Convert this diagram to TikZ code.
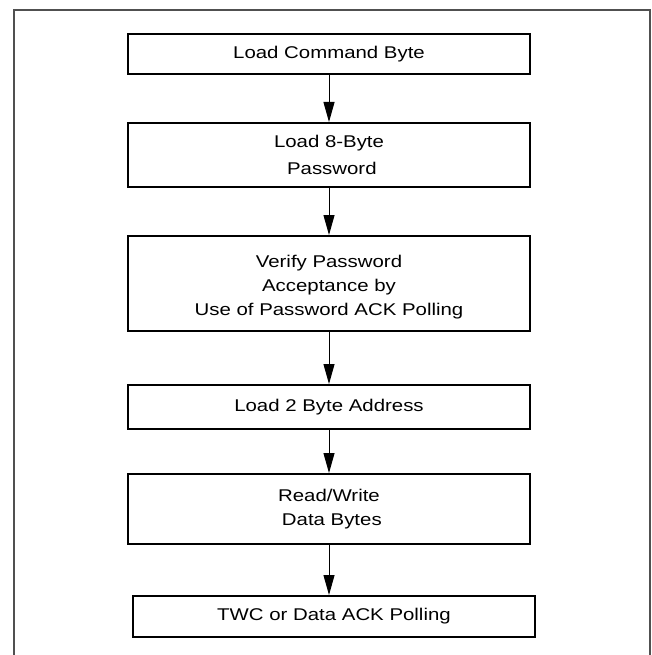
\documentclass[tikz,border=0pt]{standalone}
\usepackage{fontspec}
\setmainfont{Liberation Sans}
\newfontfamily\flowfont[FakeStretch=1.2]{Liberation Sans}
\usetikzlibrary{arrows.meta}
\definecolor{framegray}{HTML}{505050}
\tikzset{
  stepbox/.style={draw=black, line width=2pt, minimum width=402pt, align=center,
    font=\flowfont\fontsize{17}{24}\selectfont, inner sep=0pt},
  flowarrow/.style={line width=1pt, -{Triangle[length=20pt,width=11pt]}},
  outerframe/.style={draw=framegray, line width=1.5pt}
}
\begin{document}
\begin{tikzpicture}[x=1pt,y=1pt]
\useasboundingbox (0,0) rectangle (651,-655);
% open frame around the flow
\draw[outerframe] (14,-655) -- (14,-10) -- (650,-10) -- (650,-655);
% steps
\node[stepbox, minimum height=40pt] (cmd) at (329,-54) {Load Command Byte};
\node[stepbox, minimum height=64pt, font=\flowfont\fontsize{17}{27}\selectfont] (pwd) at (329,-155) {Load 8-Byte\\ \ Password};
\node[stepbox, minimum height=95pt] (ver) at (329,-283.5) {\rule{0pt}{19pt}Verify Password\\Acceptance by\\Use of Password ACK Polling};
\node[stepbox, minimum height=44pt] (addr) at (329,-407) {Load 2 Byte Address};
\node[stepbox, minimum height=70pt] (rw) at (329,-509) {Read/Write\\ \ Data Bytes};
\node[stepbox, minimum height=41pt] (poll) at (334,-616.5) {TWC or Data ACK Polling};
% connectors
\draw[flowarrow] (cmd) -- (pwd);
\draw[flowarrow] (pwd) -- (ver);
\draw[flowarrow] (ver) -- (addr);
\draw[flowarrow] (addr) -- (rw);
\draw[flowarrow] (rw.south) -- (rw.south |- poll.north);
\end{tikzpicture}
\end{document}
